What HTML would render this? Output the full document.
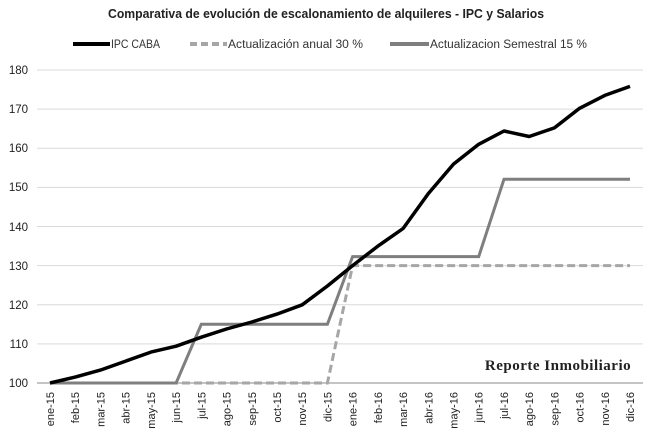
<!DOCTYPE html>
<html><head><meta charset="utf-8"><style>body{margin:0;background:#fff}svg{display:block;font-family:"Liberation Sans",sans-serif}</style></head><body>
<svg width="650" height="436" viewBox="0 0 650 436">
<rect width="650" height="436" fill="#fff"/>
<text x="326" y="18" text-anchor="middle" font-size="12.5" font-weight="bold" fill="#222" textLength="436" lengthAdjust="spacingAndGlyphs">Comparativa de evolución de escalonamiento de alquileres - IPC y Salarios</text>
<g font-size="11.5" fill="#333">
<line x1="73" y1="44" x2="110" y2="44" stroke="#000" stroke-width="4"/><text x="111" y="48" textLength="49" lengthAdjust="spacingAndGlyphs">IPC CABA</text>
<line x1="190" y1="44" x2="227" y2="44" stroke="#a6a6a6" stroke-width="4" stroke-dasharray="7,4"/><text x="228" y="48" textLength="135" lengthAdjust="spacingAndGlyphs">Actualización anual 30 %</text>
<line x1="390" y1="44" x2="429" y2="44" stroke="#7f7f7f" stroke-width="4"/><text x="430" y="48" textLength="157" lengthAdjust="spacingAndGlyphs">Actualizacion Semestral 15 %</text>
</g>
<g stroke="#d9d9d9" stroke-width="1">
<line x1="37" x2="643" y1="343.9" y2="343.9"/><line x1="37" x2="643" y1="304.8" y2="304.8"/><line x1="37" x2="643" y1="265.6" y2="265.6"/><line x1="37" x2="643" y1="226.5" y2="226.5"/><line x1="37" x2="643" y1="187.4" y2="187.4"/><line x1="37" x2="643" y1="148.3" y2="148.3"/><line x1="37" x2="643" y1="109.1" y2="109.1"/><line x1="37" x2="643" y1="70" y2="70"/>
</g>
<line x1="37" x2="643" y1="383" y2="383" stroke="#888"/>
<g font-size="11.5" fill="#222" text-anchor="end">
<text x="28" y="387">100</text><text x="28" y="348">110</text><text x="28" y="309">120</text><text x="28" y="270">130</text><text x="28" y="231">140</text><text x="28" y="191">150</text><text x="28" y="152">160</text><text x="28" y="113">170</text><text x="28" y="74">180</text>
</g>
<text x="558" y="370" text-anchor="middle" font-family="Liberation Serif,serif" font-weight="bold" font-size="15" fill="#222" letter-spacing="0.5">Reporte Inmobiliario</text>
<polyline fill="none" stroke="#a6a6a6" stroke-width="3" stroke-dasharray="8,4" points="50,383 327.4,383 352.6,265.6 630,265.6"/>
<polyline fill="none" stroke="#7f7f7f" stroke-width="3" points="50,383 176.1,383 201.3,324.3 327.4,324.3 352.6,256.6 478.7,256.6 504,179.2 630,179.2"/>
<polyline fill="none" stroke="#000" stroke-width="3.5" stroke-linejoin="round" points="50,383 75.2,377.1 100.4,370.1 125.7,361.1 150.9,352.1 176.1,346.2 201.3,337.2 226.5,329 251.8,322 277,314.1 302.2,304.8 327.4,286 352.6,265.6 377.9,246.1 403.1,228.5 428.3,193.6 453.5,164.1 478.7,144.3 504,131 529.2,136.5 554.4,127.9 579.6,108.3 604.8,95.4 630,86.4"/>
<g font-size="11" fill="#222" text-anchor="end">
<text transform="translate(54,392) rotate(-90)">ene-15</text>
<text transform="translate(79.2,392) rotate(-90)">feb-15</text>
<text transform="translate(104.4,392) rotate(-90)">mar-15</text>
<text transform="translate(129.7,392) rotate(-90)">abr-15</text>
<text transform="translate(154.9,392) rotate(-90)">may-15</text>
<text transform="translate(180.1,392) rotate(-90)">jun-15</text>
<text transform="translate(205.3,392) rotate(-90)">jul-15</text>
<text transform="translate(230.5,392) rotate(-90)">ago-15</text>
<text transform="translate(255.8,392) rotate(-90)">sep-15</text>
<text transform="translate(281,392) rotate(-90)">oct-15</text>
<text transform="translate(306.2,392) rotate(-90)">nov-15</text>
<text transform="translate(331.4,392) rotate(-90)">dic-15</text>
<text transform="translate(356.6,392) rotate(-90)">ene-16</text>
<text transform="translate(381.9,392) rotate(-90)">feb-16</text>
<text transform="translate(407.1,392) rotate(-90)">mar-16</text>
<text transform="translate(432.3,392) rotate(-90)">abr-16</text>
<text transform="translate(457.5,392) rotate(-90)">may-16</text>
<text transform="translate(482.7,392) rotate(-90)">jun-16</text>
<text transform="translate(508,392) rotate(-90)">jul-16</text>
<text transform="translate(533.2,392) rotate(-90)">ago-16</text>
<text transform="translate(558.4,392) rotate(-90)">sep-16</text>
<text transform="translate(583.6,392) rotate(-90)">oct-16</text>
<text transform="translate(608.8,392) rotate(-90)">nov-16</text>
<text transform="translate(634,392) rotate(-90)">dic-16</text>
</g>
</svg>
</body></html>
